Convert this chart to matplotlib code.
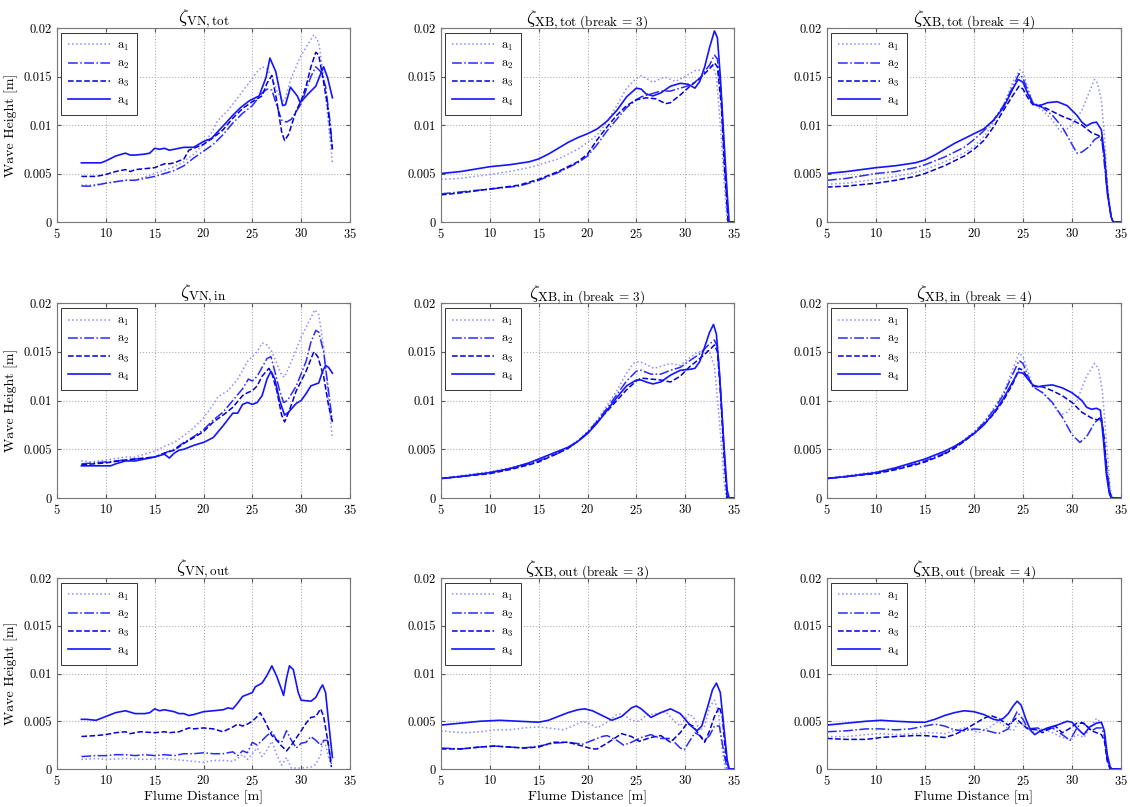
import matplotlib
matplotlib.use("Agg")
import matplotlib.pyplot as plt

plt.rcParams["font.family"] = "serif"
plt.rcParams["font.serif"] = ["cmr10", "DejaVu Serif"]
plt.rcParams["mathtext.fontset"] = "cm"
plt.rcParams["axes.formatter.use_mathtext"] = True

# ---- VN, total ----
vn_tot_a1_x = [7.5, 8.5, 10, 12, 13, 15, 17, 18, 19, 20, 21, 21.4, 22.5, 23.8, 25, 25.5, 26, 26.5, 27, 27.5, 28, 28.3, 28.9, 29.9, 30.5, 31.3, 31.8, 32.3, 32.8, 33.2]
vn_tot_a1 = [0.0038, 0.0038, 0.0040, 0.0043, 0.0043, 0.0050, 0.0057, 0.0062, 0.0070, 0.0080, 0.0095, 0.0104, 0.0115, 0.0132, 0.0148, 0.0155, 0.0160, 0.0158, 0.0150, 0.0135, 0.0126, 0.0125, 0.0146, 0.0170, 0.0180, 0.0193, 0.0185, 0.0150, 0.0100, 0.0061]
vn_tot_a2_x = [7.5, 8.5, 10, 12, 13, 15, 17, 18, 19, 20, 21, 22, 23, 24, 25, 26, 26.5, 27, 27.5, 28, 28.5, 29, 30, 31, 31.5, 32, 32.5, 33, 33.2]
vn_tot_a2 = [0.0037, 0.0037, 0.0040, 0.0043, 0.0043, 0.0047, 0.0053, 0.0058, 0.0066, 0.0073, 0.0080, 0.0090, 0.0102, 0.0112, 0.0120, 0.0133, 0.0137, 0.0136, 0.0120, 0.0105, 0.0103, 0.0106, 0.0122, 0.0150, 0.0160, 0.0155, 0.0140, 0.0100, 0.0075]
vn_tot_a3_x = [7.5, 9, 10, 11, 12, 12.5, 13, 14, 15, 16, 16.5, 17, 18, 18.5, 20, 21, 22, 23, 24, 25, 26, 26.5, 27, 27.5, 28, 28.3, 28.7, 29.5, 30, 30.5, 31, 31.5, 31.8, 32.2, 32.7, 33.2]
vn_tot_a3 = [0.0047, 0.0047, 0.0049, 0.0052, 0.0054, 0.0052, 0.0054, 0.0055, 0.0056, 0.0060, 0.0060, 0.0061, 0.0065, 0.0074, 0.0080, 0.0087, 0.0095, 0.0107, 0.0117, 0.0124, 0.0130, 0.0143, 0.0151, 0.0125, 0.0093, 0.0084, 0.0090, 0.0115, 0.0125, 0.0140, 0.0160, 0.0175, 0.0172, 0.0150, 0.0120, 0.0075]
vn_tot_a4_x = [7.5, 9, 9.5, 10, 11, 12, 12.5, 13, 14, 14.5, 15, 15.5, 16, 16.5, 17, 18, 19, 20, 20.8, 22.1, 23, 23.8, 24.7, 25.7, 26.4, 26.8, 27.4, 28.1, 28.4, 28.9, 29.6, 29.9, 30.8, 31.5, 32, 32.3, 32.7, 33.2]
vn_tot_a4 = [0.0061, 0.0061, 0.0061, 0.0063, 0.0068, 0.0071, 0.0069, 0.0069, 0.0070, 0.0071, 0.0076, 0.0075, 0.0076, 0.0074, 0.0075, 0.0077, 0.0077, 0.0083, 0.0086, 0.0100, 0.0110, 0.0118, 0.0125, 0.0130, 0.0149, 0.0169, 0.0155, 0.0120, 0.0121, 0.0139, 0.0130, 0.0123, 0.0133, 0.0140, 0.0153, 0.0160, 0.0149, 0.0128]

# ---- VN, incoming ----
vn_in_a1_x = [7.5, 8.5, 10, 12, 13, 15, 16, 17, 18, 19, 20, 21, 21.5, 22.5, 23.5, 24.5, 25.5, 26, 26.5, 27, 27.5, 28, 28.3, 29, 30, 31, 31.4, 31.8, 32.3, 32.8, 33.2]
vn_in_a1 = [0.0038, 0.0037, 0.0039, 0.0042, 0.0042, 0.0048, 0.0053, 0.0057, 0.0064, 0.0072, 0.0082, 0.0096, 0.0104, 0.0110, 0.0122, 0.0140, 0.0150, 0.0159, 0.0157, 0.0150, 0.0138, 0.0126, 0.0124, 0.0140, 0.0165, 0.0185, 0.0193, 0.0188, 0.0155, 0.0100, 0.0061]
vn_in_a2_x = [7.5, 10, 12, 15, 16, 17, 18, 19, 20, 21, 22, 23, 24, 24.6, 25, 25.5, 26, 26.5, 26.9, 27.3, 27.8, 28.2, 28.6, 29.5, 30.5, 31, 31.5, 31.8, 32.3, 32.8, 33.2]
vn_in_a2 = [0.0035, 0.0037, 0.0039, 0.0042, 0.0046, 0.0050, 0.0057, 0.0063, 0.0070, 0.0080, 0.0088, 0.0100, 0.0112, 0.0122, 0.0120, 0.0125, 0.0134, 0.0143, 0.0145, 0.0130, 0.0110, 0.0098, 0.0100, 0.0115, 0.0140, 0.0160, 0.0172, 0.0170, 0.0150, 0.0110, 0.0078]
vn_in_a3_x = [7.5, 10, 12, 15, 16, 17, 18, 19, 20, 21, 22, 23, 24, 24.5, 25, 25.5, 26, 26.7, 27, 27.5, 28, 28.3, 28.8, 29.5, 30.5, 31.3, 31.7, 32.3, 32.8, 33.2]
vn_in_a3 = [0.0034, 0.0036, 0.0039, 0.0042, 0.0046, 0.0049, 0.0056, 0.0062, 0.0068, 0.0078, 0.0085, 0.0093, 0.0105, 0.0108, 0.0110, 0.0115, 0.0125, 0.0133, 0.0128, 0.0110, 0.0085, 0.0078, 0.0090, 0.0110, 0.0130, 0.0150, 0.0145, 0.0125, 0.0095, 0.0078]
vn_in_a4_x = [7.5, 9, 10.5, 11, 12, 13, 14, 15, 16, 16.5, 17, 17.5, 18, 19, 20, 21, 22, 23, 23.5, 24, 24.5, 25, 25.5, 26, 26.5, 26.9, 27.3, 27.8, 28.3, 28.7, 29.5, 30, 30.5, 31, 31.8, 32.2, 32.5, 32.8, 33.2]
vn_in_a4 = [0.0033, 0.0033, 0.0033, 0.0035, 0.0038, 0.0038, 0.0040, 0.0042, 0.0045, 0.0041, 0.0046, 0.0049, 0.0050, 0.0054, 0.0057, 0.0062, 0.0074, 0.0087, 0.0087, 0.0096, 0.0098, 0.0096, 0.0098, 0.0105, 0.0122, 0.0130, 0.0122, 0.0100, 0.0085, 0.0088, 0.0097, 0.0100, 0.0107, 0.0115, 0.0118, 0.0130, 0.0136, 0.0134, 0.0128]

# ---- VN, outgoing ----
vn_out_a1_x = [7.5, 9, 10, 12, 14, 16, 18, 20, 21, 22, 23, 23.5, 24, 24.5, 25, 25.5, 26, 26.5, 27, 27.5, 28, 28.5, 29, 30, 31, 31.5, 32, 32.2, 32.5, 33]
vn_out_a1 = [0.0010, 0.0011, 0.0010, 0.0011, 0.0010, 0.0011, 0.0009, 0.0007, 0.0009, 0.0009, 0.0008, 0.0011, 0.0015, 0.0010, 0.0016, 0.0022, 0.0013, 0.0020, 0.0029, 0.0015, 0.0004, 0.0012, 0.0001, 0.0001, 0.0002, 0.0005, 0.0015, 0.0030, 0.0025, 0.0005]
vn_out_a2_x = [7.5, 9, 10, 11, 12, 13, 14, 15, 16, 17, 18, 19, 20, 21, 22, 23, 23.5, 24, 24.5, 25, 25.5, 26, 26.5, 27, 27.5, 28, 28.5, 29, 29.5, 30, 30.5, 31, 31.5, 32, 32.3, 32.7, 33.1]
vn_out_a2 = [0.0013, 0.0014, 0.0014, 0.0015, 0.0015, 0.0014, 0.0015, 0.0014, 0.0015, 0.0014, 0.0016, 0.0016, 0.0017, 0.0016, 0.0016, 0.0018, 0.0014, 0.0019, 0.0017, 0.0028, 0.0025, 0.0030, 0.0035, 0.0039, 0.0030, 0.0028, 0.0040, 0.0030, 0.0022, 0.0027, 0.0028, 0.0034, 0.0030, 0.0025, 0.0030, 0.0030, 0.0005]
vn_out_a3_x = [7.5, 9, 10, 11, 12, 12.5, 13.5, 15, 16, 16.5, 17.5, 18.5, 19, 20, 21, 22, 23, 23.5, 24, 24.5, 25, 25.5, 25.8, 26.3, 27, 27.5, 28, 28.5, 29, 30, 30.5, 31, 31.5, 32, 32.3, 32.8, 33.1]
vn_out_a3 = [0.0034, 0.0035, 0.0036, 0.0038, 0.0039, 0.0037, 0.0039, 0.0038, 0.0039, 0.0038, 0.0039, 0.0043, 0.0042, 0.0043, 0.0042, 0.0039, 0.0044, 0.0047, 0.0045, 0.0047, 0.0050, 0.0055, 0.0059, 0.0050, 0.0035, 0.0030, 0.0024, 0.0019, 0.0025, 0.0040, 0.0048, 0.0054, 0.0055, 0.0063, 0.0055, 0.0025, 0.0002]
vn_out_a4_x = [7.5, 8, 9, 10, 11, 12, 13, 14, 14.5, 15, 15.5, 16, 17, 17.5, 18, 18.5, 19, 20, 21, 22, 22.5, 23, 23.5, 24, 24.5, 25, 25.3, 26, 26.5, 27, 27.5, 28, 28.2, 28.5, 28.8, 29.2, 29.7, 30, 31, 31.5, 32, 32.2, 32.5, 32.8, 33.2]
vn_out_a4 = [0.0052, 0.0052, 0.0051, 0.0055, 0.0059, 0.0061, 0.0058, 0.0058, 0.0059, 0.0063, 0.0061, 0.0062, 0.0060, 0.0058, 0.0058, 0.0056, 0.0057, 0.0060, 0.0061, 0.0062, 0.0064, 0.0063, 0.0069, 0.0076, 0.0078, 0.0080, 0.0086, 0.0090, 0.0098, 0.0108, 0.0097, 0.0083, 0.0077, 0.0095, 0.0108, 0.0104, 0.0080, 0.0072, 0.0071, 0.0075, 0.0085, 0.0088, 0.0080, 0.0050, 0.0012]

# ---- XB, total, break = 3 ----
xb3_tot_a1_x = [5, 7, 10, 12, 14, 15, 17, 19, 20, 21, 22, 23, 24, 25, 25.5, 26, 26.7, 27.5, 28, 29, 30, 31, 32, 32.5, 32.8, 33.2, 33.6, 34, 34.3, 35]
xb3_tot_a1 = [0.0044, 0.0045, 0.0049, 0.0052, 0.0056, 0.0059, 0.0065, 0.0075, 0.0082, 0.0090, 0.0103, 0.0120, 0.0138, 0.0148, 0.0151, 0.0148, 0.0144, 0.0148, 0.0149, 0.0145, 0.0150, 0.0156, 0.0157, 0.0160, 0.0162, 0.0150, 0.0100, 0.0040, 0.0, 0.0]
xb3_tot_a2_x = [5, 7, 10, 13, 15, 17, 19, 20, 21, 22, 23, 24, 25, 25.5, 26.5, 27.5, 28.5, 29.5, 30.5, 31.5, 32.5, 33, 33.3, 33.7, 34, 34.4, 35]
xb3_tot_a2 = [0.0029, 0.0031, 0.0034, 0.0037, 0.0043, 0.0051, 0.0061, 0.0068, 0.0080, 0.0094, 0.0106, 0.0118, 0.0126, 0.0129, 0.0132, 0.0135, 0.0135, 0.0138, 0.0141, 0.0148, 0.0162, 0.0172, 0.0168, 0.0130, 0.0070, 0.0, 0.0]
xb3_tot_a3_x = [5, 7, 10, 13, 15, 17, 19, 20, 21, 22, 23, 24, 25, 26, 27, 28, 28.5, 29.5, 30.5, 31.5, 32.5, 33, 33.3, 33.7, 34, 34.4, 35]
xb3_tot_a3 = [0.0028, 0.0030, 0.0034, 0.0038, 0.0044, 0.0052, 0.0062, 0.0070, 0.0085, 0.0098, 0.0110, 0.0120, 0.0126, 0.0128, 0.0127, 0.0122, 0.0123, 0.0131, 0.0140, 0.0148, 0.0158, 0.0164, 0.0160, 0.0120, 0.0060, 0.0, 0.0]
xb3_tot_a4_x = [5, 7, 10, 12, 14, 15, 16, 17, 18, 19, 20, 21, 22, 23, 24, 25, 25.5, 26, 26.7, 27.5, 28.5, 29.5, 30.3, 31, 31.5, 32, 32.5, 33, 33.3, 33.6, 34, 34.3, 34.5, 35]
xb3_tot_a4 = [0.0050, 0.0052, 0.0057, 0.0059, 0.0062, 0.0065, 0.0070, 0.0076, 0.0082, 0.0087, 0.0091, 0.0096, 0.0104, 0.0115, 0.0129, 0.0138, 0.0137, 0.0132, 0.0130, 0.0133, 0.0140, 0.0143, 0.0142, 0.0138, 0.0145, 0.0160, 0.0180, 0.0197, 0.0190, 0.0150, 0.0080, 0.0030, 0.0, 0.0]

# ---- XB, total, break = 4 ----
xb4_tot_a1_x = [5, 7, 10, 12, 14, 15, 17, 19, 20, 21, 22, 23, 24, 24.7, 25, 25.5, 26, 27, 28, 28.7, 29, 30, 31, 31.8, 32.3, 32.6, 33, 33.3, 33.6, 34, 34.2, 35]
xb4_tot_a1 = [0.0039, 0.0040, 0.0044, 0.0047, 0.0051, 0.0054, 0.0062, 0.0071, 0.0078, 0.0088, 0.0103, 0.0120, 0.0145, 0.0157, 0.0154, 0.0138, 0.0123, 0.0115, 0.0105, 0.0095, 0.0092, 0.0100, 0.0115, 0.0135, 0.0147, 0.0143, 0.0125, 0.0090, 0.0040, 0.0005, 0.0, 0.0]
xb4_tot_a2_x = [5, 7, 10, 12, 14, 15, 17, 19, 20, 21, 22, 23, 24, 24.6, 25, 25.5, 26, 27, 28, 29, 30, 30.5, 31, 31.8, 32.3, 32.8, 33.1, 33.5, 34, 34.2, 35]
xb4_tot_a2 = [0.0043, 0.0045, 0.0050, 0.0052, 0.0056, 0.0059, 0.0067, 0.0077, 0.0085, 0.0094, 0.0105, 0.0120, 0.0140, 0.0153, 0.0148, 0.0135, 0.0123, 0.0118, 0.0110, 0.0098, 0.0080, 0.0071, 0.0072, 0.0078, 0.0085, 0.0088, 0.0080, 0.0040, 0.0005, 0.0, 0.0]
xb4_tot_a3_x = [5, 7, 10, 12, 14, 15, 17, 19, 20, 21, 22, 23, 24, 24.6, 25, 25.5, 26, 26.5, 27, 28, 29, 30, 31, 32, 32.5, 33, 33.3, 33.7, 34, 34.2, 35]
xb4_tot_a3 = [0.0036, 0.0037, 0.0040, 0.0043, 0.0047, 0.0050, 0.0058, 0.0068, 0.0075, 0.0084, 0.0098, 0.0115, 0.0131, 0.0140, 0.0137, 0.0128, 0.0121, 0.0120, 0.0119, 0.0114, 0.0109, 0.0105, 0.0100, 0.0092, 0.0090, 0.0088, 0.0070, 0.0025, 0.0005, 0.0, 0.0]
xb4_tot_a4_x = [5, 7, 10, 12, 14, 15, 16, 17, 18, 19, 20, 21, 22, 23, 24, 24.5, 25, 25.5, 26, 26.5, 27, 27.5, 28.5, 29.5, 30.5, 31, 31.5, 32, 32.5, 33, 33.3, 33.6, 34, 34.2, 35]
xb4_tot_a4 = [0.0050, 0.0052, 0.0056, 0.0058, 0.0061, 0.0064, 0.0069, 0.0075, 0.0081, 0.0086, 0.0091, 0.0096, 0.0105, 0.0118, 0.0138, 0.0147, 0.0144, 0.0132, 0.0122, 0.0120, 0.0121, 0.0123, 0.0124, 0.0120, 0.0110, 0.0103, 0.0099, 0.0102, 0.0103, 0.0095, 0.0070, 0.0030, 0.0005, 0.0, 0.0]

# ---- XB, incoming, break = 3 ----
xb3_in_a1_x = [5, 7, 10, 12, 14, 15, 17, 18, 19, 20, 21, 22, 23, 24, 24.7, 25.3, 26, 26.8, 27.5, 28.5, 29.5, 30, 31, 32, 32.5, 33, 33.5, 34, 34.2, 35]
xb3_in_a1 = [0.0020, 0.0023, 0.0027, 0.0031, 0.0036, 0.0039, 0.0047, 0.0052, 0.0059, 0.0068, 0.0080, 0.0095, 0.0110, 0.0128, 0.0138, 0.0140, 0.0137, 0.0133, 0.0135, 0.0138, 0.0136, 0.0140, 0.0148, 0.0152, 0.0150, 0.0135, 0.0080, 0.0015, 0.0, 0.0]
xb3_in_a2_x = [5, 7, 10, 12, 14, 15, 17, 18, 19, 20, 21, 22, 23, 24, 25, 25.5, 26.5, 27.5, 28.5, 29.5, 30.5, 31.5, 32.5, 33, 33.3, 33.6, 34, 34.3, 35]
xb3_in_a2 = [0.0020, 0.0022, 0.0026, 0.0030, 0.0035, 0.0038, 0.0046, 0.0051, 0.0058, 0.0067, 0.0079, 0.0092, 0.0106, 0.0120, 0.0130, 0.0131, 0.0127, 0.0127, 0.0131, 0.0134, 0.0141, 0.0148, 0.0158, 0.0162, 0.0155, 0.0115, 0.0045, 0.0, 0.0]
xb3_in_a3_x = [5, 7, 10, 12, 14, 15, 17, 18, 19, 20, 21, 22, 23, 24, 25, 25.5, 26.5, 27.5, 28.5, 29.5, 30.5, 31.5, 32.5, 33, 33.3, 33.6, 34, 34.3, 35]
xb3_in_a3 = [0.0020, 0.0022, 0.0025, 0.0029, 0.0034, 0.0037, 0.0046, 0.0051, 0.0058, 0.0067, 0.0078, 0.0089, 0.0100, 0.0111, 0.0120, 0.0123, 0.0122, 0.0121, 0.0119, 0.0125, 0.0135, 0.0143, 0.0152, 0.0157, 0.0150, 0.0110, 0.0040, 0.0, 0.0]
xb3_in_a4_x = [5, 7, 10, 12, 14, 15, 17, 18, 19, 20, 21, 22, 23, 24, 25, 25.5, 26, 26.7, 27.5, 28.5, 29.5, 30.5, 31, 31.5, 32, 32.5, 32.9, 33.2, 33.5, 34, 34.3, 34.5, 35]
xb3_in_a4 = [0.0020, 0.0022, 0.0026, 0.0030, 0.0036, 0.0040, 0.0048, 0.0052, 0.0058, 0.0066, 0.0077, 0.0090, 0.0103, 0.0115, 0.0121, 0.0121, 0.0119, 0.0117, 0.0119, 0.0126, 0.0131, 0.0132, 0.0133, 0.0140, 0.0155, 0.0170, 0.0178, 0.0168, 0.0130, 0.0050, 0.0008, 0.0, 0.0]

# ---- XB, incoming, break = 4 ----
xb4_in_a1_x = [5, 7, 10, 12, 14, 15, 17, 18, 19, 20, 21, 22, 23, 24, 24.6, 25, 25.5, 26, 27, 28, 28.8, 29.5, 30.5, 31.5, 32.3, 32.7, 33.1, 33.5, 33.9, 34.1, 35]
xb4_in_a1 = [0.0020, 0.0023, 0.0027, 0.0031, 0.0036, 0.0039, 0.0047, 0.0052, 0.0060, 0.0068, 0.0078, 0.0092, 0.0108, 0.0133, 0.0149, 0.0145, 0.0130, 0.0115, 0.0108, 0.0097, 0.0085, 0.0088, 0.0100, 0.0125, 0.0138, 0.0133, 0.0110, 0.0060, 0.0010, 0.0, 0.0]
xb4_in_a2_x = [5, 7, 10, 12, 14, 15, 17, 18, 19, 20, 21, 22, 23, 24, 24.6, 25, 25.5, 26, 27, 28, 29, 30, 30.8, 31.5, 32.3, 32.8, 33.1, 33.5, 33.9, 34.1, 35]
xb4_in_a2 = [0.0020, 0.0022, 0.0026, 0.0030, 0.0035, 0.0038, 0.0046, 0.0052, 0.0059, 0.0067, 0.0077, 0.0090, 0.0106, 0.0128, 0.0141, 0.0138, 0.0125, 0.0114, 0.0108, 0.0098, 0.0083, 0.0065, 0.0057, 0.0063, 0.0077, 0.0082, 0.0075, 0.0035, 0.0005, 0.0, 0.0]
xb4_in_a3_x = [5, 7, 10, 12, 14, 15, 17, 18, 19, 20, 21, 22, 23, 24, 24.6, 25, 25.5, 26, 27, 28, 29, 30, 31, 32, 32.6, 33, 33.3, 33.6, 33.9, 34.1, 35]
xb4_in_a3 = [0.0020, 0.0022, 0.0025, 0.0029, 0.0034, 0.0037, 0.0045, 0.0051, 0.0058, 0.0066, 0.0075, 0.0086, 0.0100, 0.0118, 0.0133, 0.0131, 0.0123, 0.0115, 0.0114, 0.0110, 0.0105, 0.0098, 0.0088, 0.0082, 0.0080, 0.0083, 0.0060, 0.0020, 0.0003, 0.0, 0.0]
xb4_in_a4_x = [5, 7, 10, 12, 14, 15, 17, 18, 19, 20, 21, 22, 23, 24, 24.5, 25, 25.5, 26, 26.5, 27, 28, 29, 30, 31, 31.5, 32, 32.5, 32.9, 33.2, 33.5, 33.8, 34, 35]
xb4_in_a4 = [0.0020, 0.0022, 0.0026, 0.0031, 0.0037, 0.0040, 0.0048, 0.0053, 0.0059, 0.0066, 0.0075, 0.0087, 0.0102, 0.0120, 0.0129, 0.0128, 0.0122, 0.0116, 0.0114, 0.0115, 0.0116, 0.0113, 0.0108, 0.0100, 0.0093, 0.0091, 0.0092, 0.0090, 0.0060, 0.0025, 0.0005, 0.0, 0.0]

# ---- XB, outgoing, break = 3 ----
xb3_out_a1_x = [5, 6, 7.5, 9, 10.5, 12, 13.5, 15, 16, 17.5, 18.5, 19.5, 20.3, 21, 22, 23, 23.5, 24.5, 25.3, 26, 27, 28, 29, 29.5, 30.4, 31, 31.5, 32, 32.5, 33, 33.4, 33.8, 34.1, 35]
xb3_out_a1 = [0.0040, 0.0039, 0.0038, 0.0039, 0.0041, 0.0041, 0.0043, 0.0044, 0.0043, 0.0041, 0.0045, 0.0050, 0.0047, 0.0043, 0.0049, 0.0057, 0.0058, 0.0051, 0.0050, 0.0056, 0.0058, 0.0060, 0.0049, 0.0045, 0.0058, 0.0052, 0.0040, 0.0045, 0.0065, 0.0072, 0.0060, 0.0020, 0.0, 0.0]
xb3_out_a2_x = [5, 7, 9, 10.5, 12, 13.5, 15, 16.5, 18, 19.5, 20.5, 21.5, 22, 23, 23.7, 24.5, 25.5, 26.5, 27.5, 28.5, 29.5, 29.9, 30.5, 31, 31.5, 32, 32.5, 33, 33.5, 34, 34.3, 35]
xb3_out_a2 = [0.0022, 0.0021, 0.0023, 0.0024, 0.0023, 0.0022, 0.0024, 0.0027, 0.0028, 0.0026, 0.0030, 0.0034, 0.0035, 0.0030, 0.0025, 0.0028, 0.0033, 0.0036, 0.0032, 0.0032, 0.0022, 0.0020, 0.0030, 0.0038, 0.0035, 0.0030, 0.0035, 0.0045, 0.0045, 0.0015, 0.0, 0.0]
xb3_out_a3_x = [5, 7, 9, 10.5, 12, 13.5, 15, 16.5, 18, 19.5, 20.5, 21, 22, 23.5, 24.5, 25.3, 26.5, 27.5, 28.5, 29.5, 30.2, 30.8, 31.5, 32, 32.5, 33, 33.5, 33.8, 34.2, 34.5, 35]
xb3_out_a3 = [0.0021, 0.0021, 0.0023, 0.0024, 0.0023, 0.0022, 0.0023, 0.0028, 0.0028, 0.0024, 0.0021, 0.0021, 0.0027, 0.0037, 0.0034, 0.0029, 0.0033, 0.0035, 0.0028, 0.0038, 0.0048, 0.0045, 0.0035, 0.0028, 0.0040, 0.0055, 0.0065, 0.0055, 0.0010, 0.0, 0.0]
xb3_out_a4_x = [5, 7, 9, 11, 13, 15, 16, 17, 18, 19, 19.7, 20.5, 21.5, 22.5, 23.5, 24.5, 25, 25.5, 26.5, 27.5, 28.5, 29.5, 30.5, 31.2, 31.7, 32.3, 32.8, 33.2, 33.6, 34, 34.3, 34.5, 35]
xb3_out_a4 = [0.0046, 0.0048, 0.0050, 0.0051, 0.0050, 0.0049, 0.0051, 0.0055, 0.0059, 0.0062, 0.0063, 0.0061, 0.0056, 0.0051, 0.0055, 0.0064, 0.0066, 0.0063, 0.0054, 0.0059, 0.0063, 0.0058, 0.0046, 0.0040, 0.0045, 0.0065, 0.0083, 0.0090, 0.0080, 0.0040, 0.0010, 0.0, 0.0]

# ---- XB, outgoing, break = 4 ----
xb4_out_a1_x = [5, 7, 9, 10.5, 12, 14, 15, 16, 17, 18, 19, 20, 20.5, 21.5, 22.5, 23.5, 24, 24.6, 25.3, 26, 27, 28, 29, 29.8, 30.5, 31.2, 32, 32.5, 33, 33.3, 33.6, 33.9, 35]
xb4_out_a1 = [0.0034, 0.0034, 0.0036, 0.0037, 0.0036, 0.0037, 0.0038, 0.0038, 0.0037, 0.0040, 0.0043, 0.0040, 0.0038, 0.0043, 0.0050, 0.0042, 0.0040, 0.0050, 0.0043, 0.0039, 0.0042, 0.0038, 0.0033, 0.0031, 0.0036, 0.0033, 0.0045, 0.0053, 0.0048, 0.0035, 0.0010, 0.0, 0.0]
xb4_out_a2_x = [5, 7, 9, 10.5, 12, 13.5, 15, 16, 17, 18, 19, 20, 21, 22.5, 23.5, 24.4, 25, 25.5, 26.5, 27, 28, 29, 29.8, 30.5, 31, 31.5, 32, 32.5, 33, 33.3, 33.6, 33.9, 35]
xb4_out_a2 = [0.0039, 0.0040, 0.0042, 0.0042, 0.0041, 0.0042, 0.0045, 0.0047, 0.0045, 0.0041, 0.0040, 0.0042, 0.0041, 0.0037, 0.0042, 0.0060, 0.0052, 0.0042, 0.0043, 0.0040, 0.0043, 0.0036, 0.0030, 0.0043, 0.0049, 0.0045, 0.0040, 0.0043, 0.0043, 0.0035, 0.0010, 0.0, 0.0]
xb4_out_a3_x = [5, 7, 9, 10.5, 12, 14, 15, 16, 17, 18, 19, 20, 21, 21.7, 22.5, 23.5, 24.3, 24.8, 25.5, 26.5, 27, 27.5, 28.3, 29, 29.7, 30.5, 31.2, 32, 32.5, 33, 33.3, 33.6, 33.9, 35]
xb4_out_a3 = [0.0032, 0.0031, 0.0031, 0.0033, 0.0034, 0.0035, 0.0035, 0.0034, 0.0033, 0.0036, 0.0041, 0.0047, 0.0053, 0.0056, 0.0053, 0.0046, 0.0053, 0.0048, 0.0042, 0.0041, 0.0038, 0.0041, 0.0045, 0.0038, 0.0042, 0.0048, 0.0048, 0.0040, 0.0038, 0.0036, 0.0030, 0.0008, 0.0, 0.0]
xb4_out_a4_x = [5, 7, 9, 10.5, 12, 14, 15, 16, 17, 18, 19, 20, 21, 22, 22.5, 23, 23.5, 24, 24.4, 24.8, 25.3, 25.8, 26.2, 26.8, 27.5, 28.5, 29.5, 30, 30.5, 31.2, 31.8, 32.5, 33, 33.3, 33.6, 33.9, 34.1, 35]
xb4_out_a4 = [0.0046, 0.0048, 0.0050, 0.0051, 0.0050, 0.0049, 0.0049, 0.0052, 0.0056, 0.0059, 0.0061, 0.0060, 0.0057, 0.0052, 0.0051, 0.0053, 0.0058, 0.0066, 0.0071, 0.0067, 0.0052, 0.0040, 0.0036, 0.0040, 0.0043, 0.0046, 0.0050, 0.0049, 0.0043, 0.0036, 0.0044, 0.0048, 0.0049, 0.0040, 0.0015, 0.0002, 0.0, 0.0]

labels = [r"$\mathrm{a}_1$", r"$\mathrm{a}_2$", r"$\mathrm{a}_3$", r"$\mathrm{a}_4$"]
styles = [
    dict(color="#8c8cff", linestyle=":", linewidth=1.1),
    dict(color="#2a2aff", linestyle="-.", linewidth=1.1),
    dict(color="#0000d8", linestyle="--", linewidth=1.1),
    dict(color="#1414ff", linestyle="-", linewidth=1.2),
]


def zeta_title(sub, brk=None):
    # the trailing text sits at subscript size and baseline
    if brk is None:
        return r"$\zeta_{\mathrm{%s}}$" % sub
    return r"$\zeta_{\mathrm{%s}\ \text{(break = %d)}}$" % (sub, brk)


panels = [
    [
        (zeta_title("VN,tot"), [(vn_tot_a1_x, vn_tot_a1), (vn_tot_a2_x, vn_tot_a2), (vn_tot_a3_x, vn_tot_a3), (vn_tot_a4_x, vn_tot_a4)]),
        (zeta_title("XB,tot", 3), [(xb3_tot_a1_x, xb3_tot_a1), (xb3_tot_a2_x, xb3_tot_a2), (xb3_tot_a3_x, xb3_tot_a3), (xb3_tot_a4_x, xb3_tot_a4)]),
        (zeta_title("XB,tot", 4), [(xb4_tot_a1_x, xb4_tot_a1), (xb4_tot_a2_x, xb4_tot_a2), (xb4_tot_a3_x, xb4_tot_a3), (xb4_tot_a4_x, xb4_tot_a4)]),
    ],
    [
        (zeta_title("VN,in"), [(vn_in_a1_x, vn_in_a1), (vn_in_a2_x, vn_in_a2), (vn_in_a3_x, vn_in_a3), (vn_in_a4_x, vn_in_a4)]),
        (zeta_title("XB,in", 3), [(xb3_in_a1_x, xb3_in_a1), (xb3_in_a2_x, xb3_in_a2), (xb3_in_a3_x, xb3_in_a3), (xb3_in_a4_x, xb3_in_a4)]),
        (zeta_title("XB,in", 4), [(xb4_in_a1_x, xb4_in_a1), (xb4_in_a2_x, xb4_in_a2), (xb4_in_a3_x, xb4_in_a3), (xb4_in_a4_x, xb4_in_a4)]),
    ],
    [
        (zeta_title("VN,out"), [(vn_out_a1_x, vn_out_a1), (vn_out_a2_x, vn_out_a2), (vn_out_a3_x, vn_out_a3), (vn_out_a4_x, vn_out_a4)]),
        (zeta_title("XB,out", 3), [(xb3_out_a1_x, xb3_out_a1), (xb3_out_a2_x, xb3_out_a2), (xb3_out_a3_x, xb3_out_a3), (xb3_out_a4_x, xb3_out_a4)]),
        (zeta_title("XB,out", 4), [(xb4_out_a1_x, xb4_out_a1), (xb4_out_a2_x, xb4_out_a2), (xb4_out_a3_x, xb4_out_a3), (xb4_out_a4_x, xb4_out_a4)]),
    ],
]

# axes boxes in pixels (left, top, right, bottom) on a 1130x807 canvas
col_px = [(57, 350), (441, 734), (827, 1121)]
row_px = [(28, 222), (303, 498), (578, 769)]
W, H = 1130, 807

fig = plt.figure(figsize=(11.3, 8.07), dpi=100)

for r in range(3):
    for c in range(3):
        l, rr = col_px[c]
        t, b = row_px[r]
        ax = fig.add_axes([l / W, 1 - b / H, (rr - l) / W, (b - t) / H])
        title, series = panels[r][c]
        for (xs, ys), st, lab in zip(series, styles, labels):
            ax.plot(xs, ys, label=lab, **st)
        ax.set_xlim(5, 35)
        ax.set_ylim(0, 0.02)
        ax.set_xticks([5, 10, 15, 20, 25, 30, 35])
        ax.set_yticks([0, 0.005, 0.01, 0.015, 0.02])
        ax.set_yticklabels(["0", "0.005", "0.01", "0.015", "0.02"])
        ax.grid(True, linestyle=":", color="#b0b0b0", linewidth=0.8)
        ax.tick_params(direction="in", top=True, right=True, labelsize=9,
                       length=3, color="#555555")
        for sp in ax.spines.values():
            sp.set_color("#777777")
            sp.set_linewidth(0.8)
        ax.set_title(title, fontsize=13.5, pad=4)
        if c == 0:
            ax.set_ylabel("Wave Height [m]", fontsize=10)
        if r == 2:
            ax.set_xlabel("Flume Distance [m]", fontsize=10, labelpad=2)
        leg = ax.legend(loc="upper left", fontsize=9, handlelength=3.4,
                        labelspacing=0.4, fancybox=False, framealpha=1,
                        edgecolor="#333333", borderpad=0.55, borderaxespad=0,
                        handletextpad=0.5, bbox_to_anchor=(0.014, 0.975))
        leg.get_frame().set_linewidth(0.7)

fig.savefig("out.png", dpi=100)
